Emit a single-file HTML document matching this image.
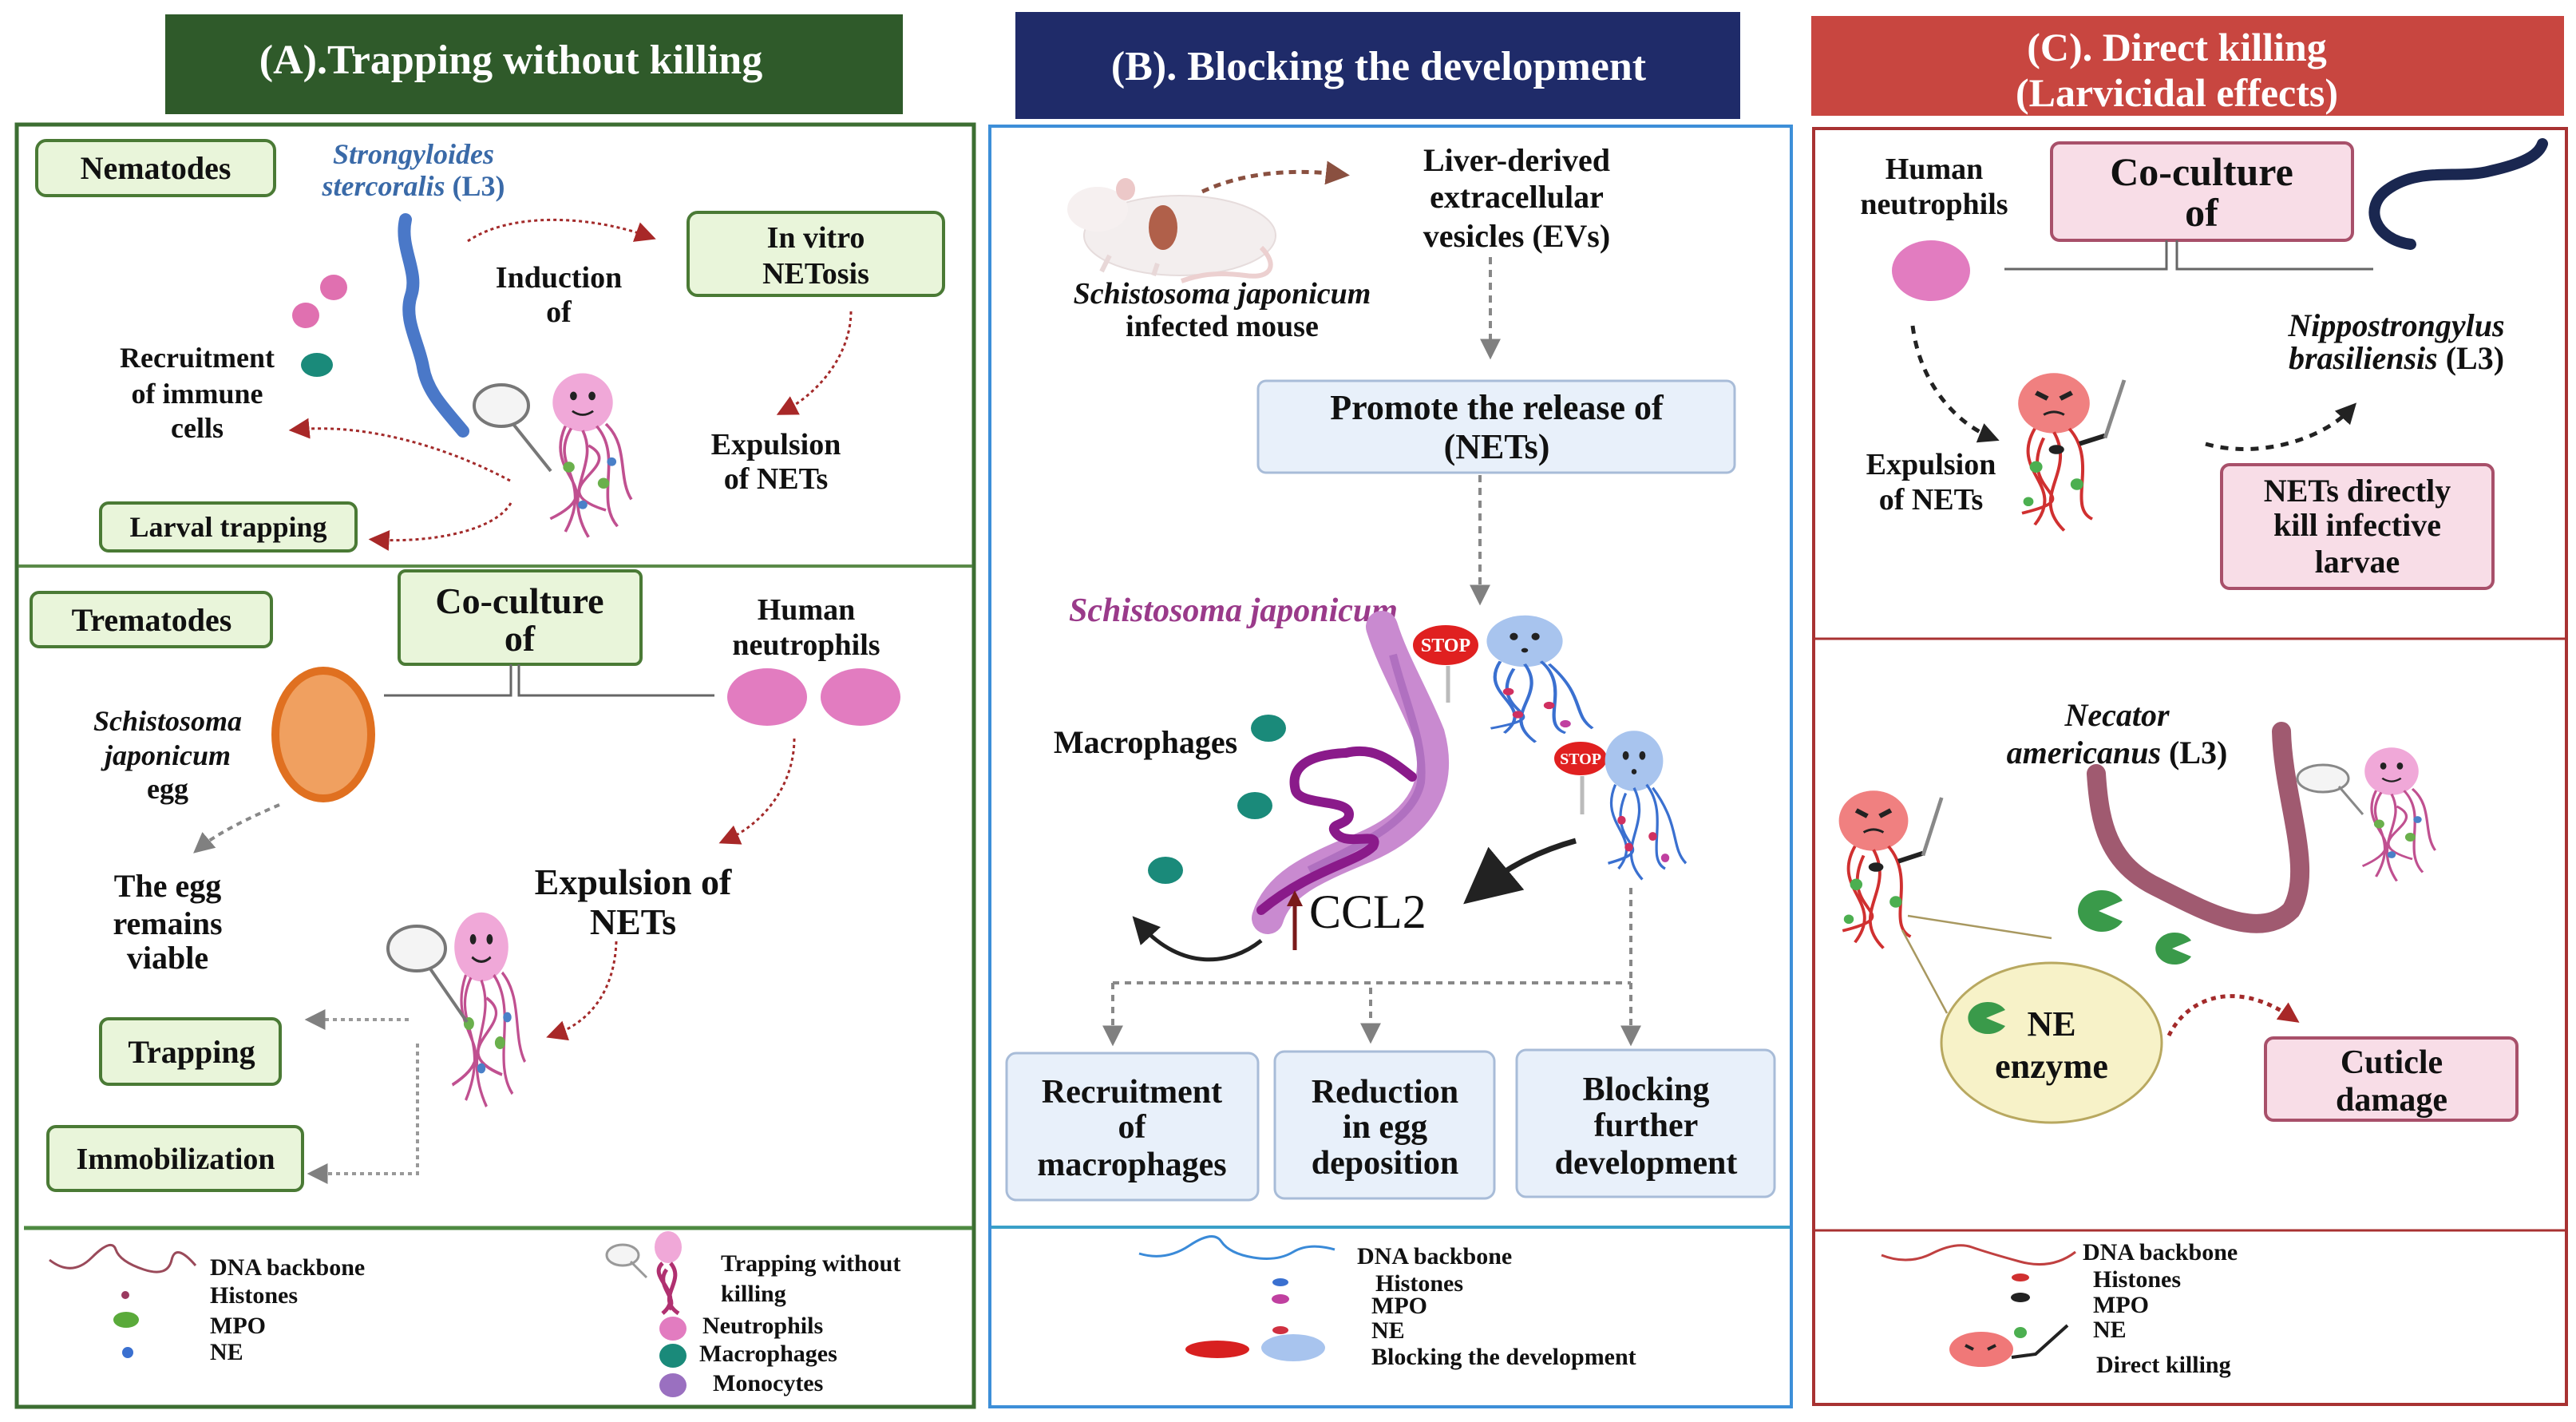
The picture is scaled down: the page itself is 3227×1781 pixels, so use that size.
<!DOCTYPE html>
<html><head><meta charset="utf-8"><style>
html,body{margin:0;padding:0;background:#fff;}
svg{display:block;}
text{font-family:"Liberation Serif",serif;font-weight:bold;fill:#111;}
.it{font-style:italic;}
</style></head><body>
<svg width="3227" height="1781" viewBox="0 0 3227 1781" xmlns="http://www.w3.org/2000/svg">
<defs>
<marker id="ar" markerWidth="10" markerHeight="10" refX="6" refY="5" orient="auto" markerUnits="userSpaceOnUse" viewBox="0 0 10 10"><path d="M0,0 L10,5 L0,10 z" fill="#a32a2a"/></marker>
<marker id="ag" markerWidth="26" markerHeight="26" refX="6" refY="5" orient="auto" markerUnits="userSpaceOnUse" viewBox="0 0 10 10"><path d="M0,0 L10,5 L0,10 z" fill="#808080"/></marker>
<marker id="ar2" markerWidth="26" markerHeight="26" refX="6" refY="5" orient="auto" markerUnits="userSpaceOnUse" viewBox="0 0 10 10"><path d="M0,0 L10,5 L0,10 z" fill="#a82828"/></marker>
<marker id="ak" markerWidth="26" markerHeight="26" refX="6" refY="5" orient="auto" markerUnits="userSpaceOnUse" viewBox="0 0 10 10"><path d="M0,0 L10,5 L0,10 z" fill="#222"/></marker>
<marker id="abig" markerWidth="70" markerHeight="70" refX="5" refY="5" orient="auto" markerUnits="userSpaceOnUse" viewBox="0 0 10 10"><path d="M0,0 L10,5 L0,10 z" fill="#222"/></marker>
<marker id="amid" markerWidth="34" markerHeight="34" refX="5" refY="5" orient="auto" markerUnits="userSpaceOnUse" viewBox="0 0 10 10"><path d="M0,0 L10,5 L0,10 z" fill="#222"/></marker>
<marker id="abr" markerWidth="30" markerHeight="30" refX="5" refY="5" orient="auto" markerUnits="userSpaceOnUse" viewBox="0 0 10 10"><path d="M0,0 L10,5 L0,10 z" fill="#8a5040"/></marker>
<g id="net">
<ellipse cx="0" cy="0" rx="26" ry="27" fill="#f0a8d8"/>
<ellipse cx="-8" cy="-6" rx="3" ry="4" fill="#222"/><ellipse cx="8" cy="-6" rx="3" ry="4" fill="#222"/>
<path d="M-9,8 Q0,15 9,8" stroke="#222" stroke-width="2" fill="none"/>
<path d="M-10,24 C-30,60 10,70 -15,120 M0,26 C15,60 -20,80 5,125 M12,22 C35,50 10,90 30,115 M-15,22 C-35,70 25,80 -28,108 M5,40 C40,60 -40,80 20,100 M20,20 C40,40 30,70 42,90" stroke="#c05090" stroke-width="2.5" fill="none"/>
<circle cx="-12" cy="60" r="5" fill="#6ab04c"/><circle cx="18" cy="75" r="5" fill="#6ab04c"/><circle cx="0" cy="95" r="4" fill="#4a80c8"/><circle cx="25" cy="55" r="4" fill="#4a80c8"/>
</g>
<g id="netr">
<ellipse cx="0" cy="0" rx="28" ry="26" fill="#f08080"/>
<path d="M-14,-9 l9,5 M14,-9 l-9,5" stroke="#222" stroke-width="4"/>
<path d="M-8,10 Q0,5 8,10" stroke="#222" stroke-width="2" fill="none"/>
<path d="M-15,22 C-35,60 10,70 -15,105 M0,25 C18,60 -20,80 8,110 M12,22 C35,50 10,90 30,100 M-8,30 C-30,80 30,80 -25,95" stroke="#d03030" stroke-width="2.5" fill="none"/>
<circle cx="-14" cy="55" r="5" fill="#4caf50"/><circle cx="18" cy="70" r="5" fill="#4caf50"/><circle cx="-20" cy="85" r="4" fill="#4caf50"/><ellipse cx="2" cy="40" rx="6" ry="4" fill="#222"/>
<path d="M20,35 L40,28" stroke="#222" stroke-width="4"/>
<path d="M40,30 L55,-20" stroke="#888" stroke-width="3"/>
</g>
<g id="netb">
<ellipse cx="0" cy="0" rx="28" ry="28" fill="#a8c4ee"/>
<ellipse cx="-8" cy="-5" rx="3" ry="4" fill="#222"/><ellipse cx="8" cy="-5" rx="3" ry="4" fill="#222"/><circle cx="0" cy="10" r="2.5" fill="#222"/>
<path d="M-18,22 C-35,60 10,70 -15,100 M0,25 C18,60 -20,80 8,110 M12,22 C35,50 10,90 30,100 M-8,30 C-30,80 30,80 -25,95 M18,25 C45,60 35,80 50,95" stroke="#3a70d0" stroke-width="2.5" fill="none"/>
<circle cx="-12" cy="55" r="4" fill="#d03060"/><circle cx="18" cy="70" r="4" fill="#d03060"/><circle cx="30" cy="90" r="4" fill="#c040a0"/><circle cx="-5" cy="80" r="4" fill="#d03060"/>
</g>
</defs>

<!-- Headers -->
<rect x="207" y="18" width="924" height="125" fill="#2f5a2a"/>
<text x="640" y="92" font-size="52" text-anchor="middle" style="fill:#fff">(A).Trapping without killing</text>
<rect x="1272" y="15" width="908" height="134" fill="#1f2b69"/>
<text x="1727" y="100" font-size="52" text-anchor="middle" style="fill:#fff">(B). Blocking the development</text>
<rect x="2269" y="20" width="943" height="125" fill="#c84640"/>
<text x="2727" y="76" font-size="50" text-anchor="middle" style="fill:#fff">(C). Direct killing</text>
<text x="2727" y="133" font-size="50" text-anchor="middle" style="fill:#fff">(Larvicidal effects)</text>

<!-- Panel borders -->
<rect x="21" y="156" width="1199" height="1606" fill="none" stroke="#3c6e32" stroke-width="5"/>
<line x1="23" y1="709" x2="1218" y2="709" stroke="#5a8a48" stroke-width="4"/>
<line x1="30" y1="1538" x2="1218" y2="1538" stroke="#4e8a42" stroke-width="5"/>
<rect x="1240" y="158" width="1004" height="1604" fill="none" stroke="#3d8fd8" stroke-width="4"/>
<line x1="1242" y1="1537" x2="2242" y2="1537" stroke="#3aa0c8" stroke-width="4"/>
<rect x="2272" y="161" width="943" height="1598" fill="none" stroke="#a83232" stroke-width="4"/>
<line x1="2274" y1="800" x2="3213" y2="800" stroke="#a83232" stroke-width="3"/>
<line x1="2274" y1="1541" x2="3213" y2="1541" stroke="#a83232" stroke-width="3"/>

<!-- ===== Panel A top ===== -->
<rect x="46" y="176" width="298" height="69" rx="12" fill="#e9f5da" stroke="#4a7a35" stroke-width="4"/>
<text x="195" y="224" font-size="40" text-anchor="middle">Nematodes</text>
<text x="518" y="205" font-size="36" text-anchor="middle" class="it" style="fill:#3a6aa8">Strongyloides</text>
<text x="518" y="245" font-size="36" text-anchor="middle" style="fill:#3a6aa8"><tspan class="it">stercoralis</tspan> (L3)</text>
<path d="M508,275 C500,310 525,340 515,370 C505,400 525,430 530,460 C535,490 555,510 580,540" stroke="#4a78c8" stroke-width="16" fill="none" stroke-linecap="round"/>
<path d="M586,302 C640,265 740,270 812,296" stroke="#a32a2a" stroke-width="3" stroke-dasharray="4,4" fill="none" marker-end="url(#ar2)"/>
<text x="700" y="360" font-size="38" text-anchor="middle">Induction</text>
<text x="700" y="403" font-size="38" text-anchor="middle">of</text>
<rect x="862" y="266" width="320" height="104" rx="12" fill="#e9f5da" stroke="#4a7a35" stroke-width="4"/>
<text x="1022" y="310" font-size="38" text-anchor="middle">In vitro</text>
<text x="1022" y="355" font-size="38" text-anchor="middle">NETosis</text>
<path d="M1066,390 C1066,440 1030,490 982,515" stroke="#a32a2a" stroke-width="3" stroke-dasharray="4,4" fill="none" marker-end="url(#ar2)"/>
<text x="972" y="569" font-size="38" text-anchor="middle">Expulsion</text>
<text x="972" y="612" font-size="38" text-anchor="middle">of NETs</text>
<ellipse cx="418" cy="360" rx="17" ry="16" fill="#e070b0"/><ellipse cx="383" cy="395" rx="17" ry="16" fill="#e070b0"/>
<ellipse cx="397" cy="457" rx="20" ry="15" fill="#1a8a7a"/>
<text x="247" y="460" font-size="36" text-anchor="middle">Recruitment</text>
<text x="247" y="505" font-size="36" text-anchor="middle">of immune</text>
<text x="247" y="548" font-size="36" text-anchor="middle">cells</text>
<path d="M639,602 C560,560 460,530 372,538" stroke="#a32a2a" stroke-width="3" stroke-dasharray="4,4" fill="none" marker-end="url(#ar2)"/>
<g transform="translate(730,504) scale(1.45,1.35)"><use href="#net"/></g>
<ellipse cx="628" cy="508" rx="34" ry="26" fill="#f4f4f4" stroke="#777" stroke-width="4"/><line x1="642" y1="530" x2="690" y2="590" stroke="#777" stroke-width="4"/>
<path d="M640,630 C620,665 540,680 472,676" stroke="#a32a2a" stroke-width="3" stroke-dasharray="4,4" fill="none" marker-end="url(#ar2)"/>
<rect x="126" y="630" width="320" height="60" rx="10" fill="#e9f5da" stroke="#4a7a35" stroke-width="4"/>
<text x="286" y="672" font-size="36" text-anchor="middle">Larval trapping</text>

<!-- ===== Panel A bottom ===== -->
<rect x="39" y="742" width="301" height="68" rx="10" fill="#e9f5da" stroke="#4a7a35" stroke-width="4"/>
<text x="190" y="790" font-size="40" text-anchor="middle">Trematodes</text>
<rect x="500" y="715" width="303" height="117" rx="8" fill="#e9f5da" stroke="#4a7a35" stroke-width="4"/>
<text x="651" y="768" font-size="46" text-anchor="middle">Co-culture</text>
<text x="651" y="815" font-size="46" text-anchor="middle">of</text>
<path d="M481,871 L640,871 L640,832 M650,832 L650,871 L895,871" stroke="#666" stroke-width="3" fill="none"/>
<text x="1010" y="776" font-size="38" text-anchor="middle">Human</text>
<text x="1010" y="820" font-size="38" text-anchor="middle">neutrophils</text>
<ellipse cx="961" cy="873" rx="50" ry="36" fill="#e27cc0"/><ellipse cx="1078" cy="873" rx="50" ry="36" fill="#e27cc0"/>
<ellipse cx="405" cy="920" rx="60" ry="80" fill="#f0a060" stroke="#e07020" stroke-width="10"/>
<text x="210" y="915" font-size="36" text-anchor="middle" class="it">Schistosoma</text>
<text x="210" y="958" font-size="36" text-anchor="middle" class="it">japonicum</text>
<text x="210" y="1000" font-size="36" text-anchor="middle">egg</text>
<path d="M350,1008 C310,1025 270,1045 250,1062" stroke="#888" stroke-width="4" stroke-dasharray="7,6" fill="none" marker-end="url(#ag)"/>
<text x="210" y="1123" font-size="40" text-anchor="middle">The egg</text>
<text x="210" y="1170" font-size="40" text-anchor="middle">remains</text>
<text x="210" y="1213" font-size="40" text-anchor="middle">viable</text>
<path d="M995,925 C995,980 960,1030 910,1052" stroke="#a32a2a" stroke-width="3" stroke-dasharray="4,4" fill="none" marker-end="url(#ar2)"/>
<text x="793" y="1120" font-size="46" text-anchor="middle">Expulsion of</text>
<text x="793" y="1170" font-size="46" text-anchor="middle">NETs</text>
<path d="M772,1179 C770,1240 740,1280 694,1296" stroke="#a32a2a" stroke-width="3" stroke-dasharray="4,4" fill="none" marker-end="url(#ar2)"/>
<g transform="translate(603,1186) scale(1.3,1.6)"><use href="#net"/></g>
<ellipse cx="522" cy="1188" rx="36" ry="28" fill="#f4f4f4" stroke="#777" stroke-width="4"/><line x1="538" y1="1212" x2="585" y2="1280" stroke="#777" stroke-width="4"/>
<path d="M512,1277 L392,1277" stroke="#999" stroke-width="4" stroke-dasharray="5,5" fill="none" marker-end="url(#ag)"/>
<rect x="126" y="1276" width="225" height="82" rx="10" fill="#e9f5da" stroke="#4a7a35" stroke-width="4"/>
<text x="240" y="1331" font-size="40" text-anchor="middle">Trapping</text>
<path d="M523,1307 L523,1470 L395,1470" stroke="#999" stroke-width="4" stroke-dasharray="5,5" fill="none" marker-end="url(#ag)"/>
<rect x="60" y="1411" width="319" height="80" rx="10" fill="#e9f5da" stroke="#4a7a35" stroke-width="4"/>
<text x="220" y="1464" font-size="38" text-anchor="middle">Immobilization</text>

<!-- Legend A -->
<path d="M62,1578 Q90,1600 115,1575 T145,1565 T180,1590 T215,1578 T245,1585" stroke="#9a4a5a" stroke-width="3" fill="none"/>
<text x="263" y="1597" font-size="30">DNA backbone</text>
<text x="263" y="1632" font-size="30">Histones</text>
<text x="263" y="1670" font-size="30">MPO</text>
<text x="263" y="1703" font-size="30">NE</text>
<circle cx="157" cy="1622" r="5" fill="#9a3a60"/>
<ellipse cx="158" cy="1653" rx="16" ry="10" fill="#5aaa3a"/>
<ellipse cx="160" cy="1694" rx="7" ry="7" fill="#3a70d0"/>
<ellipse cx="837" cy="1562" rx="17" ry="20" fill="#f0a8d8"/>
<path d="M830,1582 C810,1600 860,1620 830,1645 M840,1582 C860,1605 820,1625 850,1645 M835,1590 C820,1610 850,1625 838,1640" stroke="#b03070" stroke-width="5" fill="none"/>
<ellipse cx="780" cy="1572" rx="20" ry="13" fill="#f4f4f4" stroke="#999" stroke-width="3"/><line x1="790" y1="1580" x2="810" y2="1600" stroke="#999" stroke-width="3"/>
<text x="903" y="1592" font-size="30">Trapping without</text>
<text x="903" y="1630" font-size="30">killing</text>
<ellipse cx="843" cy="1664" rx="17" ry="15" fill="#e27cc0"/><text x="880" y="1670" font-size="30">Neutrophils</text>
<ellipse cx="843" cy="1698" rx="17" ry="15" fill="#1a8a7a"/><text x="876" y="1705" font-size="30">Macrophages</text>
<ellipse cx="843" cy="1735" rx="17" ry="15" fill="#9a70c0"/><text x="893" y="1742" font-size="30">Monocytes</text>

<!-- ===== Panel B ===== -->
<g>
<ellipse cx="1478" cy="295" rx="120" ry="50" fill="#f3eeee" stroke="#e6dcdc" stroke-width="2"/>
<ellipse cx="1375" cy="262" rx="38" ry="28" fill="#f6f0f0"/>
<ellipse cx="1410" cy="237" rx="12" ry="14" fill="#ecc8c8"/>
<ellipse cx="1457" cy="285" rx="18" ry="28" fill="#b0604a"/>
<path d="M1580,310 C1600,330 1595,350 1560,345 C1520,340 1500,345 1480,352" stroke="#ecd0d0" stroke-width="6" fill="none"/>
<path d="M1390,320 L1380,340 M1450,330 L1445,345" stroke="#e8d8d8" stroke-width="6"/>
</g>
<path d="M1506,240 C1560,215 1620,212 1676,218" stroke="#8a5040" stroke-width="5" stroke-dasharray="9,7" fill="none" marker-end="url(#abr)"/>
<text x="1900" y="214" font-size="40" text-anchor="middle">Liver-derived</text>
<text x="1900" y="260" font-size="40" text-anchor="middle">extracellular</text>
<text x="1900" y="309" font-size="40" text-anchor="middle">vesicles (EVs)</text>
<text x="1531" y="380" font-size="38" text-anchor="middle" class="it">Schistosoma japonicum</text>
<text x="1531" y="421" font-size="38" text-anchor="middle">infected mouse</text>
<path d="M1867,322 L1867,440" stroke="#888" stroke-width="4" stroke-dasharray="9,7" fill="none" marker-end="url(#ag)"/>
<rect x="1576" y="477" width="597" height="115" rx="10" fill="#e8f0fa" stroke="#a8bcd8" stroke-width="3"/>
<text x="1875" y="525" font-size="44" text-anchor="middle">Promote the release of</text>
<text x="1875" y="574" font-size="44" text-anchor="middle">(NETs)</text>
<path d="M1854,595 L1854,748" stroke="#888" stroke-width="4" stroke-dasharray="9,7" fill="none" marker-end="url(#ag)"/>
<text x="1545" y="778" font-size="42" text-anchor="middle" class="it" style="fill:#9a3a8a">Schistosoma japonicum</text>
<!-- worm -->
<path d="M1731,785 C1745,830 1770,870 1790,920 C1805,975 1790,1030 1700,1065 C1640,1090 1600,1110 1588,1150" stroke="#c98ad0" stroke-width="40" fill="none" stroke-linecap="round"/>
<path d="M1745,820 C1760,880 1785,930 1780,980 C1770,1030 1700,1060 1640,1090" stroke="#b070c0" stroke-width="10" fill="none"/>
<path d="M1769,973 C1740,950 1720,935 1686,943 C1640,945 1615,960 1623,990 C1630,1010 1690,1000 1690,1020 C1690,1035 1660,1030 1675,1045 C1690,1060 1730,1040 1720,1060 C1700,1080 1640,1090 1580,1140" stroke="#8a1a8a" stroke-width="12" fill="none" stroke-linecap="round"/>
<ellipse cx="1811" cy="808" rx="42" ry="26" fill="#e02020" stroke="#fff" stroke-width="2"/>
<text x="1811" y="816" font-size="24" text-anchor="middle" style="fill:#fff">STOP</text>
<line x1="1814" y1="834" x2="1814" y2="880" stroke="#bbb" stroke-width="5"/>
<g transform="translate(1910,803) scale(1.7,1.15)"><use href="#netb"/></g>
<ellipse cx="1980" cy="950" rx="34" ry="22" fill="#e02020" stroke="#fff" stroke-width="2"/>
<text x="1980" y="957" font-size="20" text-anchor="middle" style="fill:#fff">STOP</text>
<line x1="1982" y1="972" x2="1982" y2="1020" stroke="#bbb" stroke-width="5"/>
<g transform="translate(2047,953) scale(1.3,1.35)"><use href="#netb"/></g>
<text x="1435" y="943" font-size="40" text-anchor="middle">Macrophages</text>
<ellipse cx="1589" cy="912" rx="22" ry="17" fill="#1a8a7a"/><ellipse cx="1572" cy="1009" rx="22" ry="17" fill="#1a8a7a"/><ellipse cx="1460" cy="1090" rx="22" ry="17" fill="#1a8a7a"/>
<path d="M1974,1053 C1930,1065 1890,1085 1860,1110" stroke="#222" stroke-width="7" fill="none" marker-end="url(#abig)"/>
<path d="M1580,1178 C1540,1210 1480,1215 1430,1160" stroke="#222" stroke-width="5" fill="none" marker-end="url(#amid)"/>
<line x1="1622" y1="1190" x2="1622" y2="1130" stroke="#7a1a1a" stroke-width="5"/><path d="M1612,1135 L1622,1115 L1632,1135 z" fill="#7a1a1a"/>
<text x="1640" y="1162" font-size="60" style="font-weight:normal">CCL2</text>
<path d="M1394,1231 L2043,1231 M2043,1112 L2043,1231" stroke="#888" stroke-width="4" stroke-dasharray="8,7" fill="none"/>
<path d="M1394,1231 L1394,1300" stroke="#888" stroke-width="4" stroke-dasharray="8,7" fill="none" marker-end="url(#ag)"/>
<path d="M1717,1237 L1717,1297" stroke="#888" stroke-width="4" stroke-dasharray="8,7" fill="none" marker-end="url(#ag)"/>
<path d="M2043,1231 L2043,1300" stroke="#888" stroke-width="4" stroke-dasharray="8,7" fill="none" marker-end="url(#ag)"/>
<rect x="1261" y="1319" width="315" height="184" rx="12" fill="#e8f0fa" stroke="#a8bcd8" stroke-width="3"/>
<text x="1418" y="1381" font-size="42" text-anchor="middle">Recruitment</text>
<text x="1418" y="1425" font-size="42" text-anchor="middle">of</text>
<text x="1418" y="1472" font-size="42" text-anchor="middle">macrophages</text>
<rect x="1597" y="1317" width="275" height="184" rx="12" fill="#e8f0fa" stroke="#a8bcd8" stroke-width="3"/>
<text x="1735" y="1381" font-size="42" text-anchor="middle">Reduction</text>
<text x="1735" y="1425" font-size="42" text-anchor="middle">in egg</text>
<text x="1735" y="1470" font-size="42" text-anchor="middle">deposition</text>
<rect x="1900" y="1315" width="323" height="184" rx="12" fill="#e8f0fa" stroke="#a8bcd8" stroke-width="3"/>
<text x="2062" y="1378" font-size="42" text-anchor="middle">Blocking</text>
<text x="2062" y="1423" font-size="42" text-anchor="middle">further</text>
<text x="2062" y="1470" font-size="42" text-anchor="middle">development</text>
<!-- Legend B -->
<path d="M1427,1570 Q1460,1580 1490,1560 T1530,1555 T1570,1575 T1620,1568 T1672,1565" stroke="#3a8ad8" stroke-width="3" fill="none"/>
<text x="1700" y="1583" font-size="30">DNA backbone</text>
<text x="1723" y="1617" font-size="30">Histones</text>
<text x="1718" y="1645" font-size="30">MPO</text>
<text x="1718" y="1676" font-size="30">NE</text>
<text x="1718" y="1709" font-size="30">Blocking the development</text>
<ellipse cx="1604" cy="1606" rx="10" ry="5" fill="#3a70d0"/>
<ellipse cx="1604" cy="1627" rx="11" ry="6" fill="#c040a0"/>
<ellipse cx="1604" cy="1666" rx="10" ry="5" fill="#d03040"/>
<ellipse cx="1525" cy="1690" rx="40" ry="11" fill="#d82020"/><ellipse cx="1620" cy="1688" rx="40" ry="17" fill="#a8c4ee"/>

<!-- ===== Panel C ===== -->
<text x="2423" y="224" font-size="38" text-anchor="middle">Human</text>
<text x="2423" y="268" font-size="38" text-anchor="middle">neutrophils</text>
<ellipse cx="2419" cy="339" rx="49" ry="38" fill="#e27cc0"/>
<rect x="2570" y="179" width="377" height="122" rx="10" fill="#f8dde7" stroke="#a8506a" stroke-width="4"/>
<text x="2758" y="232" font-size="50" text-anchor="middle">Co-culture</text>
<text x="2758" y="283" font-size="50" text-anchor="middle">of</text>
<path d="M2511,337 L2714,337 L2714,301 M2727,301 L2727,337 L2973,337" stroke="#666" stroke-width="3" fill="none"/>
<path d="M3020,306 C2975,300 2960,260 2990,238 C3030,208 3080,225 3120,214 C3160,205 3180,195 3185,180" stroke="#1a2750" stroke-width="14" fill="none" stroke-linecap="round"/>
<path d="M2396,408 C2405,480 2450,530 2495,548" stroke="#222" stroke-width="5" stroke-dasharray="10,9" fill="none" marker-end="url(#ak)"/>
<g transform="translate(2573,505) scale(1.6,1.45)"><use href="#netr"/></g>
<text x="2419" y="594" font-size="38" text-anchor="middle">Expulsion</text>
<text x="2419" y="638" font-size="38" text-anchor="middle">of NETs</text>
<path d="M2763,556 C2830,575 2910,550 2945,512" stroke="#222" stroke-width="5" stroke-dasharray="10,9" fill="none" marker-end="url(#ak)"/>
<text x="3002" y="421" font-size="40" text-anchor="middle" class="it">Nippostrongylus</text>
<text x="3002" y="462" font-size="40" text-anchor="middle"><tspan class="it">brasiliensis</tspan> (L3)</text>
<rect x="2783" y="582" width="340" height="155" rx="10" fill="#f8dde7" stroke="#a8506a" stroke-width="4"/>
<text x="2953" y="628" font-size="40" text-anchor="middle">NETs directly</text>
<text x="2953" y="671" font-size="40" text-anchor="middle">kill infective</text>
<text x="2953" y="717" font-size="40" text-anchor="middle">larvae</text>
<text x="2652" y="909" font-size="40" text-anchor="middle" class="it">Necator</text>
<text x="2652" y="956" font-size="40" text-anchor="middle"><tspan class="it">americanus</tspan> (L3)</text>
<path d="M2626,969 C2630,1030 2640,1080 2700,1110 C2760,1140 2830,1180 2870,1140 C2900,1090 2860,1000 2858,916" stroke="#a05a70" stroke-width="24" fill="none" stroke-linecap="round"/>
<g transform="translate(2347,1028) scale(1.55,1.45)"><use href="#netr"/></g>
<g transform="translate(2996,966) scale(1.3,1.1)"><use href="#net"/></g>
<ellipse cx="2910" cy="975" rx="32" ry="17" fill="#f4f4f4" stroke="#888" stroke-width="3"/><line x1="2930" y1="985" x2="2960" y2="1020" stroke="#888" stroke-width="3"/>
<path d="M2390,1147 L2570,1175 M2383,1165 L2439,1269" stroke="#a89860" stroke-width="2.5"/>
<path d="M2629,1141 L2659,1128 A30,26 0 1,0 2659,1154 z" fill="#3a9a4a"/>
<path d="M2721,1188 L2745,1178 A24,20 0 1,0 2745,1198 z" fill="#3a9a4a"/>
<ellipse cx="2570" cy="1306" rx="138" ry="100" fill="#f7f2c8" stroke="#b8a860" stroke-width="3"/>
<path d="M2488,1275 L2512,1265 A25,20 0 1,0 2512,1285 z" fill="#3a9a4a"/>
<text x="2570" y="1297" font-size="44" text-anchor="middle">NE</text>
<text x="2570" y="1350" font-size="44" text-anchor="middle">enzyme</text>
<path d="M2717,1297 C2740,1250 2800,1225 2872,1275" stroke="#a32a2a" stroke-width="5" stroke-dasharray="6,6" fill="none" marker-end="url(#ar2)"/>
<rect x="2838" y="1300" width="315" height="103" rx="10" fill="#f8dde7" stroke="#a8506a" stroke-width="4"/>
<text x="2996" y="1344" font-size="42" text-anchor="middle">Cuticle</text>
<text x="2996" y="1391" font-size="42" text-anchor="middle">damage</text>
<!-- Legend C -->
<path d="M2357,1572 Q2390,1585 2420,1570 T2470,1562 T2530,1580 T2600,1568" stroke="#c04040" stroke-width="3" fill="none"/>
<text x="2609" y="1578" font-size="30">DNA backbone</text>
<text x="2622" y="1612" font-size="30">Histones</text>
<text x="2622" y="1644" font-size="30">MPO</text>
<text x="2622" y="1675" font-size="30">NE</text>
<text x="2626" y="1719" font-size="30">Direct killing</text>
<ellipse cx="2531" cy="1600" rx="11" ry="5" fill="#d03030"/>
<ellipse cx="2531" cy="1625" rx="12" ry="6" fill="#222"/>
<ellipse cx="2531" cy="1669" rx="8" ry="7" fill="#4caf50"/>
<ellipse cx="2482" cy="1690" rx="40" ry="22" fill="#f07878"/>
<path d="M2462,1685 l10,5 M2500,1685 l-10,5" stroke="#222" stroke-width="4"/>
<path d="M2520,1700 L2550,1696 L2590,1660" stroke="#222" stroke-width="4" fill="none"/>
</svg>
</body></html>
